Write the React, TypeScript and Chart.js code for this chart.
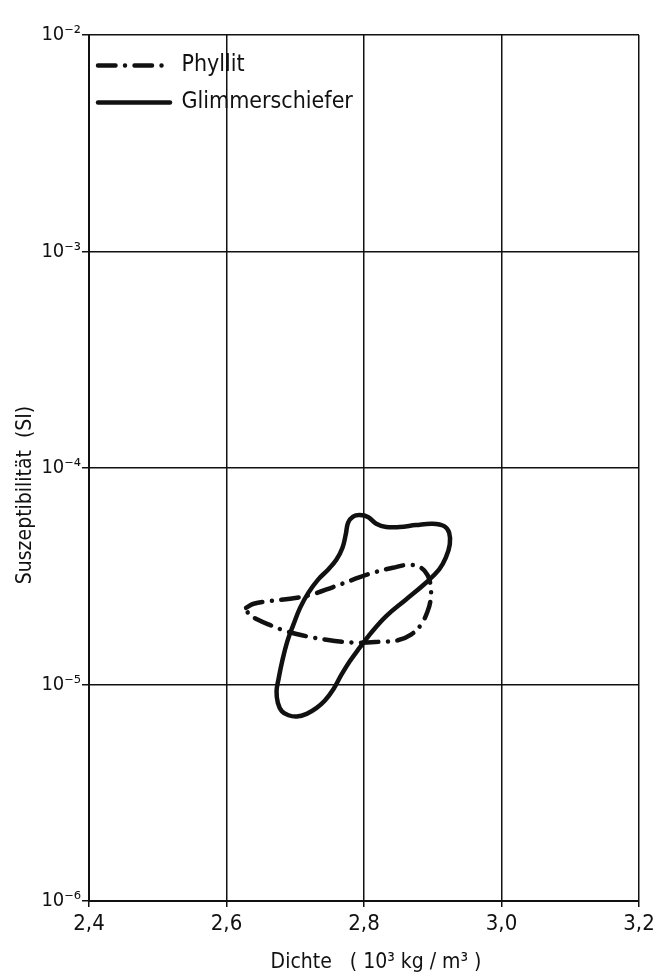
import React, { useEffect, useRef } from 'react';
import { Chart, registerables } from 'chart.js';

Chart.register(...registerables);

const seriesNames = ['Phyllit', 'Glimmerschiefer'];

// Phyllit outline (density, susceptibility)
const phyllitX = [2.6285, 2.6395, 2.6636, 2.6925, 2.7214, 2.7552, 2.7841, 2.813, 2.8419, 2.866, 2.8829, 2.8925, 2.8969, 2.8969, 2.8925, 2.8829, 2.8684, 2.8492, 2.8227, 2.7937, 2.7696, 2.7455, 2.7166, 2.6877, 2.6636, 2.6443, 2.6323];
const phyllitY = [2.26e-5, 2.36e-5, 2.43e-5, 2.49e-5, 2.59e-5, 2.82e-5, 3.05e-5, 3.28e-5, 3.46e-5, 3.57e-5, 3.46e-5, 3.2e-5, 2.85e-5, 2.47e-5, 2.18e-5, 1.89e-5, 1.7e-5, 1.6e-5, 1.575e-5, 1.56e-5, 1.575e-5, 1.61e-5, 1.67e-5, 1.76e-5, 1.88e-5, 2.0e-5, 2.12e-5];

// Glimmerschiefer outline
const glimmerX = [2.7937, 2.8082, 2.8323, 2.8612, 2.8901, 2.9094, 2.919, 2.9248, 2.9239, 2.9166, 2.8998, 2.8757, 2.8516, 2.8323, 2.8178, 2.8058, 2.7937, 2.7841, 2.7769, 2.7735, 2.7687, 2.76, 2.748, 2.7335, 2.719, 2.707, 2.6973, 2.6887, 2.681, 2.6757, 2.6728, 2.6747, 2.6805, 2.6901, 2.7022, 2.7166, 2.7311, 2.7431, 2.7552, 2.7672, 2.7793];
const glimmerY = [1.48e-5, 1.7e-5, 2.07e-5, 2.47e-5, 2.95e-5, 3.4e-5, 3.85e-5, 4.44e-5, 5.02e-5, 5.39e-5, 5.53e-5, 5.45e-5, 5.34e-5, 5.34e-5, 5.53e-5, 5.94e-5, 6.06e-5, 5.96e-5, 5.59e-5, 4.94e-5, 4.28e-5, 3.78e-5, 3.4e-5, 3.06e-5, 2.65e-5, 2.26e-5, 1.89e-5, 1.59e-5, 1.28e-5, 1.06e-5, 9.32e-6, 8.23e-6, 7.53e-6, 7.21e-6, 7.11e-6, 7.32e-6, 7.8e-6, 8.43e-6, 9.48e-6, 1.11e-5, 1.28e-5];

const xTicks = [2.4, 2.6, 2.8, 3.0, 3.2];
const xTickLabels = ['2,4', '2,6', '2,8', '3,0', '3,2'];
const yTicks = [1e-6, 1e-5, 1e-4, 1e-3, 1e-2];
const yTickLabels = ['10\u207B\u2076', '10\u207B\u2075', '10\u207B\u2074', '10\u207B\u00B3', '10\u207B\u00B2'];
const xTitle = '    Dichte   ( 10\u00B3 kg / m\u00B3 )';
const yTitle = 'Suszeptibilit\u00E4t  (SI)         ';

const FONT = "'Liberation Sans Narrow', 'DejaVu Sans Condensed', 'DejaVu Sans', sans-serif";

function toPoints(xs: number[], ys: number[], wrap: number) {
  const pts = xs.map((x, i) => ({ x, y: ys[i] }));
  for (let i = 0; i < wrap; i++) pts.push({ ...pts[i] });
  return pts;
}

export default function App() {
  const ref = useRef<HTMLCanvasElement | null>(null);
  useEffect(() => {
    if (!ref.current) return;
    const legendPos = {
      id: 'legendPos',
      beforeDraw(chart: any) {
        const l = chart.legend;
        if (!l) return;
        const ca = chart.chartArea;
        l.top = ca.top + 5;
        l.bottom = ca.bottom;
        l.left = ca.left - 5;
      },
    };
    const chart = new Chart(ref.current, {
      type: 'scatter',
      data: {
        datasets: [
          {
            label: seriesNames[0],
            data: toPoints(phyllitX, phyllitY, 1),
            showLine: true,
            tension: 0.4,
            borderColor: '#111',
            borderWidth: 4.5,
            borderDash: [17.5, 9.5, 0.01, 9.5],
            borderCapStyle: 'round',
            borderJoinStyle: 'round',
            pointRadius: 0,
            pointHoverRadius: 0,
            pointRotation: 180,
            fill: false,
          },
          {
            label: seriesNames[1],
            data: toPoints(glimmerX, glimmerY, 2),
            showLine: true,
            tension: 0.4,
            borderColor: '#111',
            borderWidth: 4.5,
            borderCapStyle: 'round',
            borderJoinStyle: 'round',
            pointRadius: 0,
            pointHoverRadius: 0,
            pointRotation: 180,
            fill: false,
          },
        ],
      },
      options: {
        animation: false,
        responsive: false,
        devicePixelRatio: 1,
        layout: { padding: { left: 0, right: 33, top: 35, bottom: 0 } },
        plugins: {
          tooltip: { enabled: false },
          legend: {
            position: 'chartArea',
            align: 'start',
            labels: {
              usePointStyle: true,
              pointStyle: 'line',
              pointStyleWidth: 72,
              padding: 14,
              color: '#111',
              font: { family: FONT, size: 23 },
              generateLabels(chart: any) {
                const items = Chart.defaults.plugins.legend.labels.generateLabels(chart);
                return items.map((it: any, i: number) => {
                  const ds: any = chart.data.datasets[i];
                  return {
                    ...it,
                    lineDash: ds.borderDash || [],
                    lineCap: 'round',
                    lineWidth: ds.borderWidth,
                    strokeStyle: ds.borderColor,
                    fillStyle: 'rgba(0,0,0,0)',
                    rotation: 180,
                  };
                });
              },
            },
          },
        },
        scales: {
          x: {
            type: 'linear',
            min: 2.4,
            max: 3.2,
            afterBuildTicks: (scale: any) => {
              scale.ticks = xTicks.map((v) => ({ value: v }));
            },
            afterFit: (scale: any) => {
              scale.height = 79;
            },
            ticks: {
              color: '#111',
              padding: 4,
              maxRotation: 0,
              font: { family: FONT, size: 22 },
              callback: (_v: any, i: number) => xTickLabels[i],
            },
            grid: { color: '#111', lineWidth: 1.5, tickLength: 6, tickColor: '#111' },
            border: { display: true, color: '#111', width: 2 },
            title: {
              display: true,
              text: xTitle,
              color: '#111',
              font: { family: FONT, size: 21 },
              padding: { top: 0, bottom: 5 },
            },
          },
          y: {
            type: 'logarithmic',
            min: 1e-6,
            max: 1e-2,
            afterBuildTicks: (scale: any) => {
              scale.ticks = yTicks.map((v) => ({ value: v }));
            },
            afterFit: (scale: any) => {
              scale.width = 89;
            },
            ticks: {
              color: '#111',
              padding: 1,
              font: { family: FONT, size: 20 },
              callback: (_v: any, i: number) => yTickLabels[i],
            },
            grid: { color: '#111', lineWidth: 1.5, tickLength: 7, tickColor: '#111' },
            border: { display: true, color: '#111', width: 2 },
            title: {
              display: true,
              text: yTitle,
              color: '#111',
              font: { family: FONT, size: 21 },
              padding: { top: 13, bottom: 0 },
            },
          },
        },
      },
      plugins: [legendPos],
    } as any);
    return () => chart.destroy();
  }, []);
  return (
    <div style={{ position: 'absolute', left: 0, top: 0, width: 672, height: 980, background: '#fff' }}>
      <canvas ref={ref} width={672} height={980} style={{ width: 672, height: 980, display: 'block' }} />
    </div>
  );
}
